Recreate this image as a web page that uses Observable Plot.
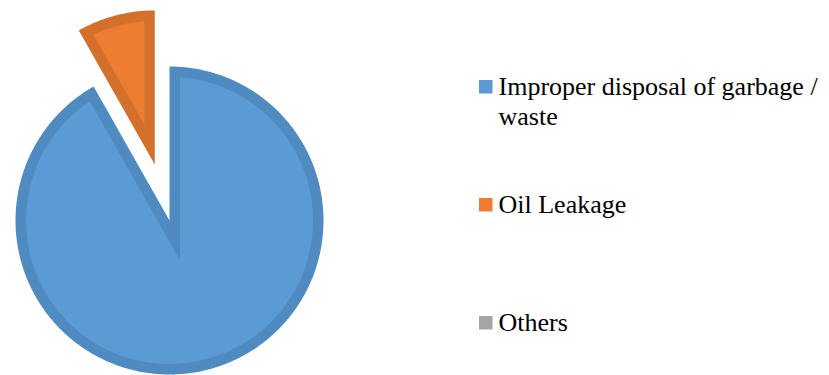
<!DOCTYPE html>
<html>
<head>
<meta charset="utf-8">
<script src="https://cdn.jsdelivr.net/npm/d3@7"></script>
<script src="https://cdn.jsdelivr.net/npm/@observablehq/plot@0.6"></script>
</head>
<body style="margin:0;background:#ffffff">
<div id="chart"></div>
<span style="position:absolute;left:0;top:0;opacity:0;font-family:'Liberation Serif';font-size:26px;pointer-events:none">Improper disposal of garbage / waste Oil Leakage Others</span>
<script>
// ---- data ----
const categories = ["Improper disposal of garbage / waste", "Oil Leakage", "Others"];
const legendLabels = ["Improper disposal of garbage /\nwaste", "Oil Leakage", "Others"];
const values = [91.8, 8.2, 0];
const fillColors = ["#5B9BD5", "#ED7D31", "#A5A5A5"];
const borderColors = ["#4F8AC0", "#D3702C", "#939393"];
const explodedCategory = "Oil Leakage";

// ---- layout ----
const W = 829, H = 375;
const cx = 169, cy = 220, R = 154, band = 10.5, explodeDist = 58;
const fontSize = 26;

const pie = d3.pie().sort(null).value(d => d.value).startAngle(0).endAngle(2 * Math.PI);
const rows = categories.map((c, i) => ({category: c, label: legendLabels[i], value: values[i], fillColor: fillColors[i], borderColor: borderColors[i]}));
const arcs = pie(rows).filter(a => a.value > 0);

const pt = (x0, y0, r, a) => [x0 + r * Math.sin(a), y0 - r * Math.cos(a)];

function wedge(a0, a1, ox, oy, r, inset) {
  const span = a1 - a0, mid = (a0 + a1) / 2;
  const pts = [];
  let vx = ox, vy = oy, s0 = a0, s1 = a1, rr = r;
  if (inset > 0) {
    const dv = inset / Math.sin(span / 2);
    [vx, vy] = pt(ox, oy, dv, mid);
    rr = r - inset;
    const da = Math.asin(inset / rr);
    s0 = a0 + da; s1 = a1 - da;
  }
  pts.push([vx, vy]);
  const n = Math.max(2, Math.ceil((s1 - s0) / (Math.PI / 360)));
  for (let k = 0; k <= n; k++) pts.push(pt(ox, oy, rr, s0 + (s1 - s0) * k / n));
  pts.push([vx, vy]);
  return pts;
}

const outer = [], inner = [];
for (const a of arcs) {
  const mid = (a.startAngle + a.endAngle) / 2;
  const off = a.data.category === explodedCategory ? explodeDist : 0;
  const [ox, oy] = pt(cx, cy, off, mid);
  for (const [x, y] of wedge(a.startAngle, a.endAngle, ox, oy, R, 0)) outer.push({x, y, key: a.data.category, color: a.data.borderColor});
  for (const [x, y] of wedge(a.startAngle, a.endAngle, ox, oy, R, band)) inner.push({x, y, key: a.data.category, color: a.data.fillColor});
}

// legend layout
const legX = 479, legTop = 73.5, legStep = 118, sq = 13.5;
const legend = rows.map((r, i) => ({...r, top: legTop + i * legStep}));

const chart = Plot.plot({
  width: W, height: H,
  margin: 0,
  x: {domain: [0, W], range: [0, W], axis: null},
  y: {domain: [0, H], range: [0, H], axis: null},
  color: {type: "identity"},
  style: {fontFamily: "Liberation Serif"},
  marks: [
    Plot.line(outer, {x: "x", y: "y", z: "key", fill: "color", stroke: null, curve: "linear"}),
    Plot.line(inner, {x: "x", y: "y", z: "key", fill: "color", stroke: null, curve: "linear"}),
    Plot.rect(legend, {x1: () => legX, x2: () => legX + sq, y1: d => d.top + 6.5, y2: d => d.top + 6.5 + sq, fill: "fillColor"}),
    Plot.text(legend, {x: () => legX + 19, y: "top", text: "label", textAnchor: "start", lineAnchor: "top", lineHeight: 1.15, fontSize: fontSize, fontFamily: "Liberation Serif", fill: "#000000"})
  ]
});
document.getElementById("chart").appendChild(chart);
</script>
</body>
</html>
